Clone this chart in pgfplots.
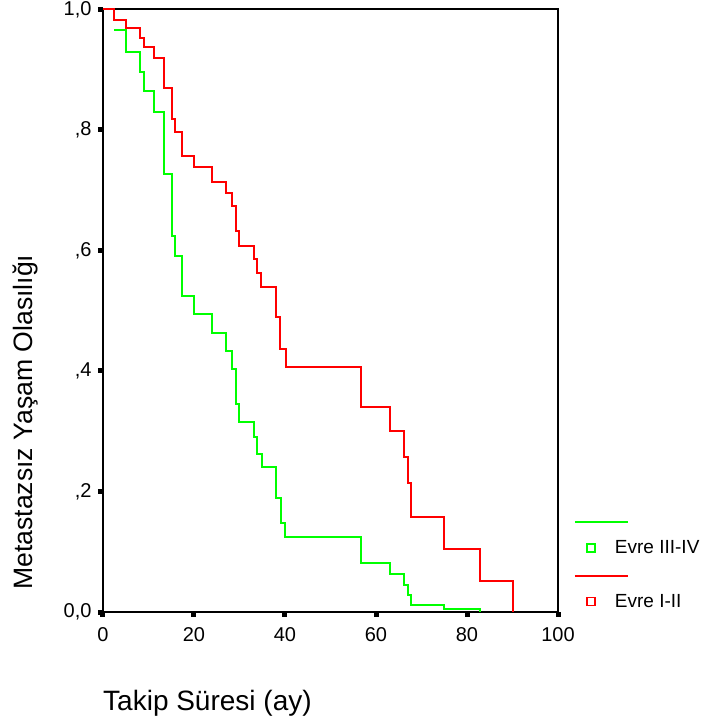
\documentclass[border=0pt]{standalone}
\usepackage{fontspec}
\setmainfont{Liberation Sans}
\usepackage{pgfplots}
\pgfplotsset{compat=1.18}

% Kaplan-Meier steps
\pgfplotstableread{
t s
0 1.000
2.4 0.983
5.05 0.970
8.1 0.953
9.0 0.937
11.2 0.919
13.4 0.870
15.2 0.818
15.9 0.797
17.4 0.757
20.0 0.738
24.0 0.714
27.0 0.695
28.3 0.674
29.2 0.632
30.0 0.608
33.2 0.586
33.9 0.562
34.8 0.539
38.0 0.489
39.0 0.436
40.2 0.406
56.8 0.341
63.0 0.300
66.1 0.258
67.0 0.214
67.8 0.158
74.9 0.105
82.8 0.051
90.0 0.000
}\evreI

\pgfplotstableread{
t s
2.4 0.966
5.05 0.930
8.1 0.897
9.0 0.864
11.2 0.830
13.4 0.727
15.2 0.624
15.9 0.591
17.4 0.525
20.0 0.495
24.0 0.463
27.0 0.433
28.3 0.403
29.2 0.346
30.0 0.316
33.1 0.290
33.9 0.263
34.9 0.240
38.0 0.190
39.2 0.147
40.1 0.124
56.8 0.081
63.0 0.063
66.1 0.044
67.0 0.028
67.8 0.012
74.9 0.005
82.8 0.000
}\evreIII

\definecolor{kmgreen}{RGB}{0,255,0}
\definecolor{kmred}{RGB}{255,0,0}

\begin{document}
\begin{tikzpicture}
\useasboundingbox (-103pt,-114pt) rectangle (600pt,612pt);
\begin{axis}[
  scale only axis, width=455pt, height=602.5pt,
  xmin=0, xmax=100, ymin=0, ymax=1,
  clip=false,
  axis line style={line width=2pt},
  xtick={0,20,40,60,80,100}, xticklabels={0,20,40,60,80,100},
  ytick={0,0.2,0.4,0.6,0.8,1}, yticklabels={0{,}0,{,2},{,4},{,6},{,8},1{,}0},
  xtick pos=bottom, ytick pos=left,
  tick align=outside, major tick length=5pt,
  tick style={line width=5pt, black},
  xticklabel style={font=\fontsize{20}{24}\selectfont, yshift=-7pt},
  yticklabel style={font=\fontsize{20}{24}\selectfont, xshift=-3pt},
  xlabel={Takip Süresi (ay)},
  ylabel={Metastazsız Yaşam Olasılığı},
  every axis x label/.style={at={(rel axis cs:0,-0.151)}, anchor=west, inner sep=0pt,
    font=\fontsize{28}{32}\selectfont},
  every axis y label/.style={at={(rel axis cs:-0.171,0.315)}, rotate=90, anchor=center,
    inner sep=0pt, font=\fontsize{26.6}{30}\selectfont},
  legend image code/.code={
    \draw[#1, overlay, line width=2pt] (-16pt,26pt) -- (37pt,26pt);
    \draw[#1, line width=1.5pt] (-4pt,-4pt) rectangle (4pt,4pt);
    \path[draw=none] (4pt,0pt) -- (22pt,0pt);
  },
  legend style={draw=none, fill=none, at={(rel axis cs:1.055,0.125)}, anchor=north west,
    font=\fontsize{19}{22}\selectfont, row sep=35pt},
  legend cell align=left,
]
\addplot[kmgreen, line width=2pt, const plot, mark=none] table[x=t, y=s] {\evreIII};
\addlegendentry{Evre III-IV}
\addplot[kmred, line width=2pt, const plot, mark=none] table[x=t, y=s] {\evreI};
\addlegendentry{Evre I-II}
\end{axis}
\end{tikzpicture}
\end{document}
